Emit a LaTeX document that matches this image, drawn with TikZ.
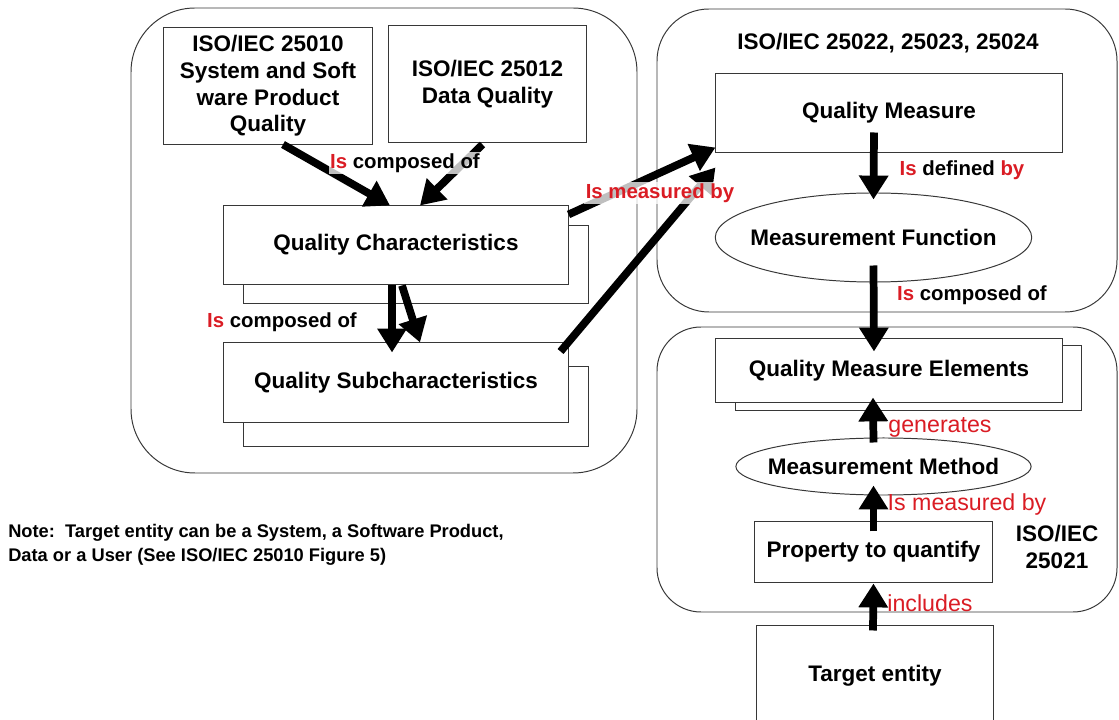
\documentclass[tikz,border=0pt]{standalone}
\usepackage{fontspec}
\setmainfont{Liberation Sans}
\usetikzlibrary{calc}
\usetikzlibrary{shapes}
\usetikzlibrary{arrows.meta}

\definecolor{isred}{RGB}{218,28,36}
\definecolor{edge}{RGB}{55,55,55}

\tikzset{
  stdbox/.style={draw=edge, line width=0.7pt, fill=white, inner sep=0pt, align=center,
    font=\fontsize{16}{19}\selectfont\bfseries},
  ellbox/.style={stdbox, ellipse, inner xsep=-8pt, inner ysep=0pt},
  group/.style={draw=edge, line width=0.7pt},
  heading/.style={align=center, inner sep=0pt, font=\fontsize{16}{19}\selectfont\bfseries},
  bigarrow/.style={line width=5.5pt, -{Triangle[length=17pt,width=20pt]}},
  boldlabel/.style={inner sep=1pt, font=\fontsize{14.5}{17}\selectfont\bfseries},
  backlabel/.style={boldlabel, fill=white, fill opacity=0.75, text opacity=1},
  thinlabel/.style={inner sep=1pt, text=isred, font=\fontsize{16.5}{19}\selectfont},
}

\begin{document}
\begin{tikzpicture}[x=0.025cm, y=-0.025cm]
        \clip (0,0) rectangle (1119,720);

        % Groups
        \draw [group, rounded corners=1.6cm] (131,8) rectangle (637,473);
        \draw [group, rounded corners=1.3cm] (657,9) rectangle (1117,312);
        \draw [group, rounded corners=1.1cm] (657,327) rectangle (1117,612);

        % Quality model side
        \node [stdbox, minimum width=5.2cm, minimum height=2.9cm] (iso10) at (268,86)
            {ISO/IEC 25010\\System and Soft\\ware Product\\Quality};
        \node [stdbox, minimum width=4.925cm, minimum height=2.9cm] (iso12) at (487.5,84)
            {ISO/IEC 25012\\Data Quality};
        \node [stdbox, minimum width=8.6cm, minimum height=1.95cm] (qcback) at (416,264.5) {};
        \node [stdbox, minimum width=8.6cm, minimum height=1.95cm] (qc) at (396,245)
            {Quality Characteristics};
        \node [stdbox, minimum width=8.6cm, minimum height=1.975cm] (qsback) at (416,406.5) {};
        \node [stdbox, minimum width=8.6cm, minimum height=1.975cm] (qs) at (396,382.5)
            {Quality Subcharacteristics};

        % Quality measure side
        \node [heading] (title) at (888,43) {ISO/IEC 25022, 25023, 25024};
        \node [stdbox, minimum width=8.65cm, minimum height=1.95cm] (qm) at (889,113)
            {Quality Measure};
        \node [ellbox, minimum width=7.875cm, minimum height=2.225cm] (mf) at (873.5,237.5)
            {Measurement Function};

        % Measure elements side
        \node [stdbox, minimum width=8.625cm, minimum height=1.6cm] (qmeback) at (908.5,378) {};
        \node [stdbox, minimum width=8.65cm, minimum height=1.575cm] (qme) at (889,370.5)
            {Quality Measure Elements};
        \node [ellbox, minimum width=7.375cm, minimum height=1.425cm] (mm) at (883.5,466.5)
            {Measurement Method};
        \node [stdbox, minimum width=5.925cm, minimum height=1.5cm] (pq) at (873.5,552)
            {Property to quantify};
        \node [heading] (iso21) at (1057,547) {ISO/IEC\\25021};
        \node [stdbox, minimum width=5.9cm, minimum height=2.5cm] (te) at (875,676)
            {Target entity};

        % Arrows
        \draw [bigarrow] ($(iso10.south)+(15,0)$) -- ($(qc.north)+(-6,0)$);
        \draw [bigarrow] ($(iso12.south)+(-5,2)$) -- ($(qc.north)+(24,0)$);
        \draw [bigarrow] ($(qc.south)+(-4,1)$) -- ($(qs.north)+(-4,10)$);
        \draw [bigarrow] ($(qc.south)+(6,1)$) -- ($(qs.north)+(24,0)$);
        \draw [bigarrow] ($(qc.north east)+(0,9)$) -- ($(qm.south west)+(0,-5)$);
        \draw [bigarrow] ($(qs.north east)+(-8,9)$) -- ($(qm.south west)+(0,15)$);
        \draw [bigarrow] ($(qm.south)+(-15,-20)$) -- ($(mf.north)+(0,7)$);
        \draw [bigarrow] ($(mf.south)+(0,-17)$) -- ($(qme.north)+(-15,13)$);
        \draw [bigarrow] ($(mm.north)+(-10,5)$) -- ($(qme.south)+(-16,-5)$);
        \draw [bigarrow] ($(pq.north)+(0,10)$) -- ($(mm.south)+(-10,-10)$);
        \draw [bigarrow] ($(te.north)+(-2,5)$) -- ($(pq.south)+(0,1)$);

        % Labels
        \node [backlabel] (comp1) at (405,163) {\textcolor{isred}{Is} composed of};
        \node [boldlabel] (comp2) at (282,322) {\textcolor{isred}{Is} composed of};
        \node [backlabel, text=isred] (meas1) at (660,193) {Is measured by};
        \node [boldlabel] (defby) at (962,170) {\textcolor{isred}{Is} defined \textcolor{isred}{by}};
        \node [boldlabel] (comp3) at (972,295) {\textcolor{isred}{Is} composed of};
        \node [thinlabel] (gen) at (940,427) {generates};
        \node [thinlabel] (meas2) at (967,505) {Is measured by};
        \node [thinlabel] (incl) at (930,603) {includes};

        % Note
        \node [anchor=west, align=left, inner sep=0pt, font=\fontsize{13}{17}\selectfont\bfseries] (note) at (8,545)
            {Note:\ \ Target entity can be a System, a Software Product,\\Data or a User (See ISO/IEC 25010 Figure 5)};
\end{tikzpicture}
\end{document}
